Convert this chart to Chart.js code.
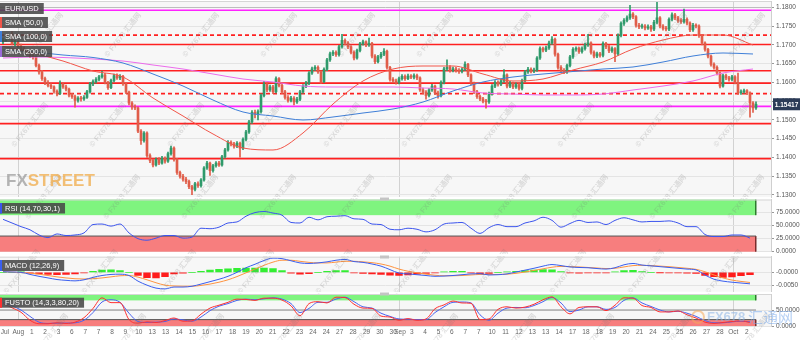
<!DOCTYPE html>
<html><head><meta charset="utf-8">
<script src="https://cdn.jsdelivr.net/npm/chart.js@4.4.1/dist/chart.umd.min.js"></script>
<style>
html,body{margin:0;padding:0;background:#fff;}
#wrap{position:relative;width:801px;height:340px;overflow:hidden;background:#fff;}
canvas{position:absolute;left:0;}
</style></head><body>
<div id="wrap">
<canvas id="cMain" width="801" height="198" style="top:0px"></canvas>
<canvas id="cRsi" width="801" height="60" style="top:196px"></canvas>
<canvas id="cMacd" width="801" height="40" style="top:254px"></canvas>
<canvas id="cSto" width="801" height="50" style="top:290px"></canvas>
</div>
<script>
// ---------------- DATA ----------------
const opens = [
1.1708,1.1712,1.1718,1.1730,1.1703,1.1708,1.1697,1.1690,1.1686,1.1678,
1.1670,1.1668,1.1645,1.1628,1.1610,1.1600,1.1592,1.1588,1.1576,1.1570,
1.1595,1.1588,1.1582,1.1566,1.1562,1.1552,1.1558,1.1556,1.1560,1.1575,
1.1596,1.1602,1.1608,1.1615,1.1620,1.1600,1.1586,1.1605,1.1618,1.1612,
1.1616,1.1596,1.1574,1.1545,1.1535,1.1532,1.1470,1.1445,1.1465,1.1405,
1.1392,1.1380,1.1395,1.1385,1.1398,1.1390,1.1410,1.1425,1.1395,1.1360,
1.1350,1.1342,1.1336,1.1322,1.1315,1.1330,1.1325,1.1340,1.1372,1.1385,
1.1365,1.1378,1.1385,1.1380,1.1402,1.1420,1.1440,1.1436,1.1430,1.1438,
1.1425,1.1448,1.1468,1.1495,1.1520,1.1516,1.1522,1.1565,1.1595,1.1580,
1.1588,1.1575,1.1610,1.1592,1.1575,1.1560,1.1552,1.1558,1.1548,1.1555,
1.1575,1.1590,1.1598,1.1625,1.1636,1.1640,1.1628,1.1602,1.1635,1.1660,
1.1676,1.1680,1.1674,1.1695,1.1712,1.1705,1.1695,1.1680,1.1665,1.1685,
1.1703,1.1708,1.1700,1.1704,1.1670,1.1655,1.1668,1.1675,1.1683,1.1640,
1.1608,1.1604,1.1600,1.1610,1.1616,1.1610,1.1617,1.1614,1.1618,1.1612,
1.1580,1.1574,1.1565,1.1580,1.1590,1.1572,1.1565,1.1600,1.1636,1.1640,
1.1632,1.1636,1.1632,1.1629,1.1635,1.1648,1.1620,1.1598,1.1575,1.1562,
1.1556,1.1550,1.1548,1.1570,1.1590,1.1600,1.1595,1.1604,1.1620,1.1590,
1.1598,1.1588,1.1594,1.1584,1.1605,1.1628,1.1635,1.1630,1.1633,1.1665,
1.1690,1.1686,1.1692,1.1705,1.1715,1.1675,1.1640,1.1632,1.1628,1.1645,
1.1668,1.1688,1.1690,1.1682,1.1690,1.1700,1.1705,1.1680,1.1670,1.1676,
1.1672,1.1704,1.1695,1.1684,1.1690,1.1676,1.1725,1.1757,1.1765,1.1772,
1.1782,1.1775,1.1752,1.1748,1.1750,1.1745,1.1748,1.1742,1.1760,1.1772,
1.1750,1.1744,1.1742,1.1768,1.1780,1.1772,1.1765,1.1762,1.1768,1.1758,
1.1740,1.1752,1.1750,1.1725,1.1705,1.1688,1.1670,1.1648,1.1640,1.1625,
1.1590,1.1618,1.1612,1.1608,1.1615,1.1600,1.1572,1.1575,1.1578,1.1572,
1.1545,1.1532];
const highs = [
1.1718,1.1722,1.1727,1.1735,1.1712,1.1711,1.1702,1.1695,1.1689,1.1683,
1.1676,1.1671,1.1649,1.1632,1.1614,1.1605,1.1597,1.1591,1.1580,1.1604,
1.1599,1.1593,1.1585,1.1571,1.1566,1.1562,1.1563,1.1565,1.1579,1.1600,
1.1607,1.1613,1.1619,1.1630,1.1624,1.1603,1.1609,1.1622,1.1623,1.1621,
1.1619,1.1599,1.1577,1.1549,1.1540,1.1535,1.1474,1.1469,1.1468,1.1410,
1.1396,1.1399,1.1400,1.1403,1.1402,1.1414,1.1430,1.1428,1.1398,1.1364,
1.1355,1.1347,1.1340,1.1326,1.1334,1.1335,1.1344,1.1376,1.1390,1.1388,
1.1382,1.1389,1.1390,1.1406,1.1424,1.1445,1.1444,1.1440,1.1442,1.1441,
1.1452,1.1472,1.1499,1.1525,1.1526,1.1527,1.1569,1.1603,1.1599,1.1593,
1.1592,1.1615,1.1613,1.1596,1.1579,1.1565,1.1563,1.1562,1.1560,1.1579,
1.1594,1.1603,1.1629,1.1641,1.1645,1.1644,1.1631,1.1639,1.1664,1.1681,
1.1685,1.1684,1.1699,1.1728,1.1716,1.1709,1.1698,1.1684,1.1689,1.1707,
1.1713,1.1711,1.1718,1.1707,1.1674,1.1672,1.1680,1.1690,1.1686,1.1643,
1.1613,1.1609,1.1614,1.1621,1.1620,1.1622,1.1621,1.1623,1.1622,1.1615,
1.1585,1.1578,1.1584,1.1595,1.1593,1.1577,1.1604,1.1640,1.1660,1.1645,
1.1641,1.1640,1.1637,1.1639,1.1655,1.1651,1.1623,1.1601,1.1579,1.1566,
1.1560,1.1555,1.1574,1.1594,1.1605,1.1604,1.1608,1.1634,1.1623,1.1603,
1.1601,1.1599,1.1598,1.1609,1.1632,1.1640,1.1639,1.1638,1.1669,1.1695,
1.1694,1.1697,1.1710,1.1722,1.1718,1.1678,1.1645,1.1637,1.1649,1.1672,
1.1693,1.1695,1.1694,1.1695,1.1705,1.1728,1.1708,1.1684,1.1681,1.1680,
1.1708,1.1707,1.1699,1.1695,1.1693,1.1729,1.1761,1.1770,1.1777,1.1805,
1.1786,1.1778,1.1757,1.1755,1.1754,1.1753,1.1752,1.1765,1.1818,1.1775,
1.1754,1.1749,1.1772,1.1785,1.1784,1.1776,1.1770,1.1795,1.1772,1.1761,
1.1757,1.1756,1.1753,1.1728,1.1708,1.1691,1.1673,1.1652,1.1644,1.1628,
1.1622,1.1622,1.1616,1.1619,1.1618,1.1625,1.1580,1.1582,1.1581,1.1575,
1.1549,1.1548];
const lows = [
1.1703,1.1709,1.1714,1.1700,1.1698,1.1693,1.1686,1.1681,1.1674,1.1666,
1.1662,1.1641,1.1622,1.1605,1.1594,1.1588,1.1583,1.1571,1.1564,1.1567,
1.1584,1.1577,1.1561,1.1557,1.1534,1.1547,1.1550,1.1552,1.1557,1.1571,
1.1591,1.1598,1.1604,1.1611,1.1596,1.1581,1.1583,1.1601,1.1608,1.1607,
1.1592,1.1570,1.1540,1.1528,1.1527,1.1466,1.1435,1.1441,1.1400,1.1386,
1.1375,1.1377,1.1381,1.1382,1.1385,1.1387,1.1406,1.1390,1.1355,1.1345,
1.1337,1.1330,1.1317,1.1301,1.1311,1.1320,1.1321,1.1337,1.1368,1.1352,
1.1361,1.1374,1.1376,1.1377,1.1398,1.1417,1.1431,1.1425,1.1426,1.1401,
1.1421,1.1444,1.1464,1.1491,1.1505,1.1500,1.1518,1.1561,1.1575,1.1576,
1.1570,1.1572,1.1588,1.1570,1.1555,1.1547,1.1548,1.1540,1.1544,1.1551,
1.1571,1.1586,1.1594,1.1621,1.1631,1.1624,1.1597,1.1599,1.1631,1.1656,
1.1671,1.1669,1.1670,1.1691,1.1700,1.1690,1.1676,1.1660,1.1662,1.1681,
1.1699,1.1695,1.1696,1.1665,1.1650,1.1652,1.1664,1.1671,1.1635,1.1603,
1.1599,1.1595,1.1596,1.1606,1.1605,1.1607,1.1610,1.1609,1.1607,1.1576,
1.1569,1.1555,1.1561,1.1576,1.1567,1.1558,1.1561,1.1596,1.1631,1.1627,
1.1628,1.1627,1.1624,1.1625,1.1631,1.1615,1.1593,1.1570,1.1557,1.1551,
1.1545,1.1531,1.1544,1.1566,1.1586,1.1590,1.1591,1.1600,1.1585,1.1586,
1.1583,1.1584,1.1579,1.1580,1.1601,1.1624,1.1625,1.1626,1.1629,1.1661,
1.1681,1.1682,1.1688,1.1701,1.1670,1.1635,1.1627,1.1623,1.1624,1.1641,
1.1664,1.1683,1.1677,1.1678,1.1686,1.1696,1.1675,1.1665,1.1666,1.1667,
1.1668,1.1690,1.1679,1.1680,1.1655,1.1672,1.1721,1.1752,1.1761,1.1768,
1.1770,1.1747,1.1743,1.1744,1.1740,1.1741,1.1736,1.1738,1.1756,1.1745,
1.1739,1.1737,1.1738,1.1764,1.1767,1.1760,1.1757,1.1758,1.1753,1.1735,
1.1736,1.1745,1.1720,1.1700,1.1683,1.1665,1.1643,1.1635,1.1620,1.1585,
1.1587,1.1607,1.1603,1.1604,1.1596,1.1568,1.1568,1.1571,1.1567,1.1507,
1.1520,1.1528];
const closes = [
1.1712,1.1718,1.1722,1.1703,1.1708,1.1697,1.1690,1.1686,1.1678,1.1670,
1.1668,1.1645,1.1628,1.1610,1.1600,1.1592,1.1588,1.1576,1.1570,1.1595,
1.1588,1.1582,1.1566,1.1562,1.1552,1.1558,1.1556,1.1560,1.1575,1.1596,
1.1602,1.1608,1.1615,1.1620,1.1600,1.1586,1.1605,1.1618,1.1612,1.1616,
1.1596,1.1574,1.1545,1.1535,1.1532,1.1470,1.1445,1.1465,1.1405,1.1392,
1.1380,1.1395,1.1385,1.1398,1.1390,1.1410,1.1425,1.1395,1.1360,1.1350,
1.1342,1.1336,1.1322,1.1315,1.1330,1.1325,1.1340,1.1372,1.1385,1.1365,
1.1378,1.1385,1.1380,1.1402,1.1420,1.1440,1.1436,1.1430,1.1438,1.1425,
1.1448,1.1468,1.1495,1.1520,1.1516,1.1522,1.1565,1.1595,1.1580,1.1588,
1.1575,1.1610,1.1592,1.1575,1.1560,1.1552,1.1558,1.1548,1.1555,1.1575,
1.1590,1.1598,1.1625,1.1636,1.1640,1.1628,1.1602,1.1635,1.1660,1.1676,
1.1680,1.1674,1.1695,1.1712,1.1705,1.1695,1.1680,1.1665,1.1685,1.1703,
1.1708,1.1700,1.1704,1.1670,1.1655,1.1668,1.1675,1.1683,1.1640,1.1608,
1.1604,1.1600,1.1610,1.1616,1.1610,1.1617,1.1614,1.1618,1.1612,1.1580,
1.1574,1.1565,1.1580,1.1590,1.1572,1.1565,1.1600,1.1636,1.1640,1.1632,
1.1636,1.1632,1.1629,1.1635,1.1648,1.1620,1.1598,1.1575,1.1562,1.1556,
1.1550,1.1548,1.1570,1.1590,1.1600,1.1595,1.1604,1.1620,1.1590,1.1598,
1.1588,1.1594,1.1584,1.1605,1.1628,1.1635,1.1630,1.1633,1.1665,1.1690,
1.1686,1.1692,1.1705,1.1715,1.1675,1.1640,1.1632,1.1628,1.1645,1.1668,
1.1688,1.1690,1.1682,1.1690,1.1700,1.1705,1.1680,1.1670,1.1676,1.1672,
1.1704,1.1695,1.1684,1.1690,1.1676,1.1725,1.1757,1.1765,1.1772,1.1782,
1.1775,1.1752,1.1748,1.1750,1.1745,1.1748,1.1742,1.1760,1.1772,1.1750,
1.1744,1.1742,1.1768,1.1780,1.1772,1.1765,1.1762,1.1768,1.1758,1.1740,
1.1752,1.1750,1.1725,1.1705,1.1688,1.1670,1.1648,1.1640,1.1625,1.1590,
1.1618,1.1612,1.1608,1.1615,1.1600,1.1572,1.1575,1.1578,1.1572,1.1545,
1.1532,1.15417];

// moving averages, one value every SMA_STEP candles
const SMA_STEP = 10;
const sma50  = [1.16956,1.16783,1.16569,1.16303,1.16143,1.15584,1.15104,1.14625,1.14252,1.14199,1.14652,1.15424,1.16037,1.16356,1.16436,1.16436,1.16223,1.16037,1.16090,1.16330,1.16543,1.16889,1.17129,1.17262,1.17262,1.16996];
const sma100 = [1.16862,1.16809,1.16729,1.16663,1.16516,1.16223,1.15903,1.15530,1.15211,1.15104,1.14998,1.15078,1.15184,1.15291,1.15477,1.15770,1.16010,1.16143,1.16223,1.16290,1.16356,1.16410,1.16543,1.16703,1.16783,1.16756];
const sma200 = [1.16649,1.16676,1.16663,1.16623,1.16569,1.16463,1.16356,1.16223,1.16090,1.16010,1.15903,1.15877,1.15877,1.15877,1.15850,1.15824,1.15717,1.15690,1.15664,1.15664,1.15690,1.15797,1.15903,1.16037,1.16250,1.16356];

// oscillators, one value every OSC_STEP candles
const OSC_STEP = 3;
const rsi = [62,55,48,42,32,27,34,31,32,36,52,53,49,53,36,25,22,26,31,31,26,28,45,44,47,55,57,68,75,77,74,70,56,55,66,61,67,68,69,63,62,53,52,43,42,45,43,38,42,53,55,56,45,35,46,52,48,48,55,59,66,60,47,54,60,56,57,52,60,65,61,57,58,58,59,55,48,48,33,29,29,32,32,26];
const macd = [0.0002,0.0001,0.0000,-0.0008,-0.0015,-0.0021,-0.0027,-0.0030,-0.0032,-0.0028,-0.0019,-0.0012,-0.0008,-0.0007,-0.0012,-0.0033,-0.0048,-0.0059,-0.0062,-0.0055,-0.0055,-0.0052,-0.0044,-0.0035,-0.0026,-0.0015,0.0000,0.0017,0.0030,0.0044,0.0053,0.0051,0.0043,0.0035,0.0033,0.0035,0.0039,0.0045,0.0048,0.0040,0.0037,0.0031,0.0023,0.0010,-0.0003,-0.0006,-0.0009,-0.0012,-0.0015,-0.0014,-0.0012,-0.0009,-0.0006,-0.0005,-0.0010,-0.0009,-0.0006,0.0001,0.0008,0.0015,0.0023,0.0029,0.0025,0.0020,0.0018,0.0017,0.0014,0.0012,0.0017,0.0028,0.0033,0.0027,0.0024,0.0021,0.0018,0.0015,0.0012,0.0009,-0.0010,-0.0026,-0.0033,-0.0037,-0.0040,-0.0043];
const signal = [0.0002,0.0001,-0.0001,-0.0003,-0.0007,-0.0012,-0.0017,-0.0021,-0.0024,-0.0025,-0.0024,-0.0021,-0.0017,-0.0013,-0.0012,-0.0018,-0.0028,-0.0039,-0.0048,-0.0051,-0.0052,-0.0052,-0.0049,-0.0044,-0.0037,-0.0028,-0.0016,-0.0002,0.0012,0.0026,0.0038,0.0045,0.0045,0.0041,0.0037,0.0035,0.0035,0.0038,0.0041,0.0041,0.0039,0.0036,0.0031,0.0023,0.0012,0.0004,-0.0002,-0.0007,-0.0011,-0.0013,-0.0013,-0.0012,-0.0010,-0.0008,-0.0008,-0.0008,-0.0007,-0.0004,0.0001,0.0007,0.0013,0.0019,0.0022,0.0021,0.0020,0.0018,0.0016,0.0014,0.0015,0.0020,0.0025,0.0026,0.0025,0.0023,0.0021,0.0018,0.0015,0.0011,0.0002,-0.0010,-0.0021,-0.0029,-0.0034,-0.0038];
const hist = [0.0000,0.0000,0.0001,-0.0003,-0.0006,-0.0008,-0.0009,-0.0008,-0.0006,-0.0002,0.0004,0.0008,0.0009,0.0006,0.0000,-0.0012,-0.0020,-0.0021,-0.0016,-0.0006,-0.0003,0.0000,0.0004,0.0008,0.0011,0.0013,0.0015,0.0016,0.0016,0.0016,0.0014,0.0006,-0.0003,-0.0007,-0.0005,0.0000,0.0004,0.0006,0.0006,-0.0002,-0.0004,-0.0006,-0.0008,-0.0011,-0.0012,-0.0010,-0.0007,-0.0004,-0.0002,0.0002,0.0004,0.0004,-0.0002,-0.0005,-0.0004,0.0000,0.0002,0.0004,0.0006,0.0008,0.0010,0.0009,0.0003,-0.0002,-0.0003,-0.0002,-0.0002,-0.0002,0.0002,0.0006,0.0007,0.0003,0.0000,-0.0001,-0.0002,-0.0002,-0.0003,-0.0004,-0.0012,-0.0016,-0.0019,-0.0017,-0.0013,-0.0009];
const stochRed = [70,57,43,18,7,7,10,8,12,26,55,88,73,73,20,9,13,11,17,25,15,16,37,56,65,74,84,83,80,87,87,81,63,32,70,76,72,90,89,68,56,55,31,28,18,23,18,22,54,66,78,72,71,20,22,52,60,56,59,68,82,91,60,38,58,60,60,48,65,88,87,64,58,44,44,47,35,25,12,8,11,14,16,11];
const stochBlue = [75,63,50,30,12,8,9,9,10,18,42,75,82,74,40,14,11,12,14,22,19,15,28,48,62,70,80,84,82,85,88,84,70,42,55,74,74,84,90,76,60,56,40,30,22,21,20,20,42,60,74,75,72,35,18,40,56,58,57,64,76,89,72,45,50,60,60,52,58,80,88,72,61,50,44,46,40,30,17,10,10,13,15,13];

// horizontal levels on the price chart
const levels = [1.1792, 1.1726, 1.1701, 1.1631, 1.1598, 1.1570, 1.1536, 1.1490, 1.1397];
const lastPrice = 1.15417;

// axis ticks
const priceTicks = [1.13,1.135,1.14,1.145,1.15,1.155,1.16,1.165,1.17,1.175,1.18];
const rsiTicks = [0,25,50,75];
const macdTicks = [0,-0.005];
const macdTickLabels = ['-0.0000','-0.0050'];
const stochTicks = [0,50];
const xTickLabels = ['Jul','Aug','1','2','3','6','7','7','8','9','10','13','13','14','15','16','17','18','19','20','21','22','23','24','24','27','28','29','30','30','Sep','3','4','5','6','7','7','10','11','12','13','13','14','17','18','18','19','20','21','24','25','25','26','27','28','Oct','2'];
const xTickIdx = [0.63,5.1,9.57,14.03,18.5,22.93,27.4,31.87,36.33,40.8,45.27,49.73,54.2,58.67,63.13,67.57,72.03,76.5,80.97,85.43,89.9,94.37,98.83,103.3,107.77,112.23,116.7,121.17,125.6,130.07,132.33,136.23,140.7,145.17,149.63,154.1,158.57,163.03,167.5,171.97,176.43,180.9,185.37,189.83,194.3,198.77,203.23,207.7,212.17,216.63,221.1,225.57,230.03,234.5,238.97,243.43,247.9];

// ---------------- STYLE / SETUP ----------------
const FONT = 'Arial, "Liberation Sans", sans-serif';
Chart.defaults.font.family = FONT;
Chart.defaults.animation = false;
const N = closes.length;
const X_MIN = -1, X_MAX = 256;
const GREEN = '#2f9a6b', RED = '#e05d49';
const MONTHS = new Set(['Aug','Sep','Oct']);
const LEVEL_STYLE = [
  {c:'#ff22ff', d:[]}, {c:'#ff2020', d:[4,3]}, {c:'#ff2020', d:[]}, {c:'#ff2020', d:[]},
  {c:'#ff2020', d:[]}, {c:'#ff2020', d:[4,3]}, {c:'#ff22ff', d:[]}, {c:'#ff2020', d:[]}, {c:'#ff2020', d:[]}
];
// decorative watermark lattice (page coordinates)
const WM_ROWS = [{y:35, x0:45}, {y:125, x0:30}, {y:197, x0:44}, {y:272, x0:22}, {y:336, x0:50}];
const WM_DX = 78;

function xScale(showLabels){
  return {
    type:'linear', min:X_MIN, max:X_MAX, offset:false, bounds:'data',
    afterBuildTicks: s => { s.ticks = xTickIdx.map(v => ({value:v})); },
    ticks:{display:showLabels, autoSkip:false, maxRotation:0, minRotation:0,
      callback:(v,i)=>xTickLabels[i], font:{size:6.5}, color:'#666', padding:2},
    grid:{offset:false, drawTicks:false, lineWidth:1,
      color: c => MONTHS.has(xTickLabels[c.index]) ? '#d2d2d2' : 'rgba(0,0,0,0)'},
    border:{display:false},
    afterFit: s => { s.height = showLabels ? 14 : 0; s.paddingLeft = 0; s.paddingRight = 0; }
  };
}
function yScale(min, max, ticks, fmt, strong){
  return {
    position:'right', min, max, bounds:'data',
    afterBuildTicks: s => { s.ticks = ticks.map(v => ({value:v})); },
    ticks:{callback:fmt, font:{size:6.5}, color:'#555', padding:2, autoSkip:false},
    grid:{color: c => (strong !== undefined && c.tick && Math.abs(c.tick.value - strong) < 1e-9) ? '#bdbdbd' : '#e4e4e4',
      tickColor:'#999', tickLength:3, drawTicks:true},
    border:{display:true, color:'#cfcfcf'},
    afterFit: s => { s.width = 30; s.paddingTop = 0; s.paddingBottom = 0; }
  };
}
const bgPlugin = {id:'bg',
  beforeDraw(c){ const {ctx, chartArea:a} = c; ctx.save(); ctx.fillStyle='#f7f7f7';
    ctx.fillRect(a.left, a.top, a.right-a.left, a.bottom-a.top); ctx.restore(); },
  afterDraw(c){ const {ctx, chartArea:a} = c; ctx.save(); ctx.strokeStyle='#d6d6d6'; ctx.lineWidth=1;
    ctx.beginPath(); ctx.moveTo(a.left, a.top+0.5); ctx.lineTo(a.right, a.top+0.5); ctx.stroke(); ctx.restore(); }
};
function watermark(pageTop, y0, y1){
  return {id:'wm', afterDatasetsDraw(c){
    const ctx = c.ctx; ctx.save();
    ctx.beginPath(); ctx.rect(0, y0 - pageTop, 771, y1 - y0); ctx.clip();
    ctx.font = 'bold 7.5px ' + FONT + ', "Noto Sans CJK SC"'; ctx.fillStyle = 'rgba(120,120,120,0.22)';
    ctx.textAlign = 'center'; ctx.textBaseline = 'middle';
    WM_ROWS.forEach(r => { for (let x = r.x0; x < 800; x += WM_DX){
      ctx.save(); ctx.translate(x, r.y - pageTop); ctx.rotate(-0.9); ctx.fillText('© FX678 汇通网', 0, 0); ctx.restore(); } });
    ctx.restore(); }};
}
function boxLabels(items){
  return {id:'boxLabels', afterDraw(c){
    const ctx = c.ctx; ctx.save(); ctx.font = '7.5px ' + FONT; ctx.textBaseline = 'middle';
    items.forEach(it => {
      const w = ctx.measureText(it.text).width + 10;
      ctx.fillStyle = 'rgba(72,72,72,0.88)'; ctx.fillRect(0, it.y, w, it.h);
      if (it.stripe){ ctx.fillStyle = it.stripe; ctx.fillRect(0, it.y, 2, it.h); }
      ctx.fillStyle = '#ffffff'; ctx.fillText(it.text, 5, it.y + it.h/2 + 0.5);
    });
    ctx.restore(); }};
}
function handle(y){
  return {id:'handle', afterDraw(c){ const ctx=c.ctx; ctx.save(); ctx.fillStyle='#c4c4c4'; ctx.fillRect(380, y, 9, 3); ctx.restore(); }};
}
function bands(list){
  return {id:'bands', beforeDatasetsDraw(c){
    const {ctx, chartArea:a, scales} = c; const y = scales.y, x = scales.x;
    const xr = x.getPixelForValue(N-1);
    ctx.save();
    list.forEach(b => {
      const t = y.getPixelForValue(b.to), bt = y.getPixelForValue(b.from);
      ctx.fillStyle = b.fill; ctx.fillRect(a.left, t, xr-a.left, bt-t);
      ctx.fillStyle = b.edge; ctx.fillRect(xr-1, t, 1.5, bt-t);
      if (b.topLine){ ctx.fillStyle = b.topLine; ctx.fillRect(a.left, t-0.5, xr-a.left, 1); }
    });
    ctx.restore(); }};
}
function hline(value, color){
  return {id:'hline'+value, beforeDatasetsDraw(c){
    const {ctx, chartArea:a, scales} = c; const yy = scales.y.getPixelForValue(value);
    ctx.save(); ctx.fillStyle = color; ctx.fillRect(a.left, Math.round(yy)-0.5, scales.x.getPixelForValue(N-1)-a.left, 1); ctx.restore(); }};
}
const priceTag = {id:'priceTag', afterDraw(c){
  const ctx = c.ctx; const y = c.scales.y.getPixelForValue(lastPrice);
  ctx.save(); ctx.fillStyle = '#2b3b57'; ctx.fillRect(773, y-6, 27, 12);
  ctx.fillStyle = '#fff'; ctx.font = 'bold 6.5px ' + FONT; ctx.textBaseline = 'middle'; ctx.textAlign = 'center';
  ctx.fillText(lastPrice.toFixed(5), 786.5, y+0.5); ctx.restore(); }};
const logo = {id:'logo', afterDatasetsDraw(c){
  const ctx = c.ctx; ctx.save(); ctx.font = 'bold 17px "Liberation Sans Narrow", "Arial Narrow", ' + FONT;
  ctx.textBaseline = 'alphabetic';
  ctx.fillStyle = 'rgba(150,150,150,0.7)'; ctx.fillText('FX', 6, 186);
  const w = ctx.measureText('FX').width;
  ctx.fillStyle = 'rgba(240,165,60,0.7)'; ctx.fillText('STREET', 6 + w, 186);
  ctx.restore(); }};
const fx678 = {id:'fx678', afterDraw(c){
  const ctx = c.ctx; ctx.save();
  ctx.strokeStyle = 'rgba(245,170,90,0.55)'; ctx.lineWidth = 2; ctx.beginPath(); ctx.arc(698, 27, 6, 0, Math.PI*2); ctx.stroke();
  ctx.font = 'bold 13px ' + FONT; ctx.textBaseline = 'middle';
  ctx.fillStyle = 'rgba(140,180,230,0.55)'; ctx.fillText('FX678', 707, 27);
  ctx.font = '15px "Noto Sans CJK SC", sans-serif'; ctx.fillStyle = 'rgba(120,170,235,0.55)'; ctx.fillText('汇通网', 748, 27);
  ctx.restore(); }};

const idx = closes.map((_, i) => i);
const candleColor = ctx => closes[ctx.dataIndex] >= opens[ctx.dataIndex] ? GREEN : RED;
const stepped = (arr, step) => arr.map((v, k) => ({x: k*step, y: v}));
const lineDs = (data, color, order, w) => ({type:'line', data, borderColor:color, borderWidth:w||1, pointRadius:0, fill:false, cubicInterpolationMode:'monotone', order});
const common = {responsive:false, devicePixelRatio:1, events:[], animation:false,
  plugins:{legend:{display:false}, tooltip:{enabled:false}}};

// ---------------- MAIN PRICE CHART ----------------
new Chart(document.getElementById('cMain'), {
  type:'bar',
  data:{datasets:[
    lineDs(stepped(sma50, SMA_STEP), '#f2564a', 1),
    lineDs(stepped(sma100, SMA_STEP), '#3f7fd8', 2),
    lineDs(stepped(sma200, SMA_STEP), '#ec6cec', 3),
    {type:'bar', data: idx.map(i => ({x:i, y:[opens[i], closes[i]]})), backgroundColor:candleColor, barThickness:2, minBarLength:1, grouped:false, order:5},
    {type:'bar', data: idx.map(i => ({x:i, y:[lows[i], highs[i]]})), backgroundColor:candleColor, barThickness:1, grouped:false, order:6},
    ...levels.map((v, k) => ({type:'line', data:[{x:X_MIN, y:v},{x:X_MAX, y:v}], borderColor:LEVEL_STYLE[k].c,
      borderDash:LEVEL_STYLE[k].d, borderWidth:1.6, pointRadius:0, fill:false, order:20}))
  ]},
  options:{...common, layout:{padding:{top:1, bottom:1, left:0, right:0}},
    scales:{x:xScale(false), y:yScale(1.129467, 1.181678, priceTicks, v => v.toFixed(4), 1.18)}},
  plugins:[bgPlugin, watermark(0, 0, 197), logo, priceTag, boxLabels([
    {text:'EUR/USD', y:3, h:11},
    {text:'SMA (50,0)', y:17, h:11, stripe:'#f2564a'},
    {text:'SMA (100,0)', y:31, h:11, stripe:'#3f7fd8'},
    {text:'SMA (200,0)', y:46, h:11, stripe:'#9a6ad8'}])]
});

// ---------------- RSI ----------------
new Chart(document.getElementById('cRsi'), {
  type:'line',
  data:{datasets:[lineDs(stepped(rsi, OSC_STEP), '#3c55ee', 1)]},
  options:{...common, layout:{padding:{top:3.5, bottom:4.3, left:0, right:0}},
    scales:{x:xScale(false), y:yScale(0, 100, rsiTicks, v => v.toFixed(4))}},
  plugins:[bgPlugin, bands([
    {from:70, to:100, fill:'#7ff47f', edge:'#2c7a2c'},
    {from:0, to:30, fill:'#f77e7e', edge:'#7a2c2c', topLine:'#555'}]),
    watermark(196, 198, 254),
    boxLabels([{text:'RSI (14,70,30,1)', y:7, h:10.5, stripe:'#3c55ee'}]), handle(1.5)]
});

// ---------------- MACD ----------------
new Chart(document.getElementById('cMacd'), {
  type:'bar',
  data:{datasets:[
    lineDs(stepped(macd, OSC_STEP), '#3a5ff0', 1),
    lineDs(stepped(signal, OSC_STEP), '#ff9440', 2),
    {type:'bar', data: stepped(hist, OSC_STEP), backgroundColor: c => hist[c.dataIndex] >= 0 ? '#33ee33' : '#ff1c1c',
      barPercentage:1, categoryPercentage:1, grouped:false, order:5}
  ]},
  options:{...common, layout:{padding:{top:2.7, bottom:2.3, left:0, right:0}},
    scales:{x:xScale(false), y:yScale(-0.00724, 0.00582, macdTicks, (v,i) => macdTickLabels[i])}},
  plugins:[bgPlugin, watermark(254, 256, 292), boxLabels([{text:'MACD (12,26,9)', y:6, h:11, stripe:'#3a5ff0'}]), handle(1.5)]
});

// ---------------- STOCHASTIC ----------------
new Chart(document.getElementById('cSto'), {
  type:'line',
  data:{datasets:[
    lineDs(stepped(stochRed, OSC_STEP), '#ff3030', 1),
    lineDs(stepped(stochBlue, OSC_STEP), '#4a62f0', 2)
  ]},
  options:{...common, layout:{padding:{top:4, bottom:0, left:0, right:0}},
    scales:{x:xScale(true), y:yScale(0, 100, stochTicks, v => v.toFixed(4))}},
  plugins:[bgPlugin, bands([
    {from:80, to:100, fill:'#7ff47f', edge:'#2c7a2c'},
    {from:0, to:20, fill:'#f77e7e', edge:'#7a2c2c', topLine:'#555'}]), hline(50, '#8a8a8a'),
    watermark(290, 293, 340),
    boxLabels([{text:'FUSTO (14,3,3,80,20)', y:7.7, h:10, stripe:'#ff3030'}]), handle(2.5), fx678]
});
</script>
</body></html>
